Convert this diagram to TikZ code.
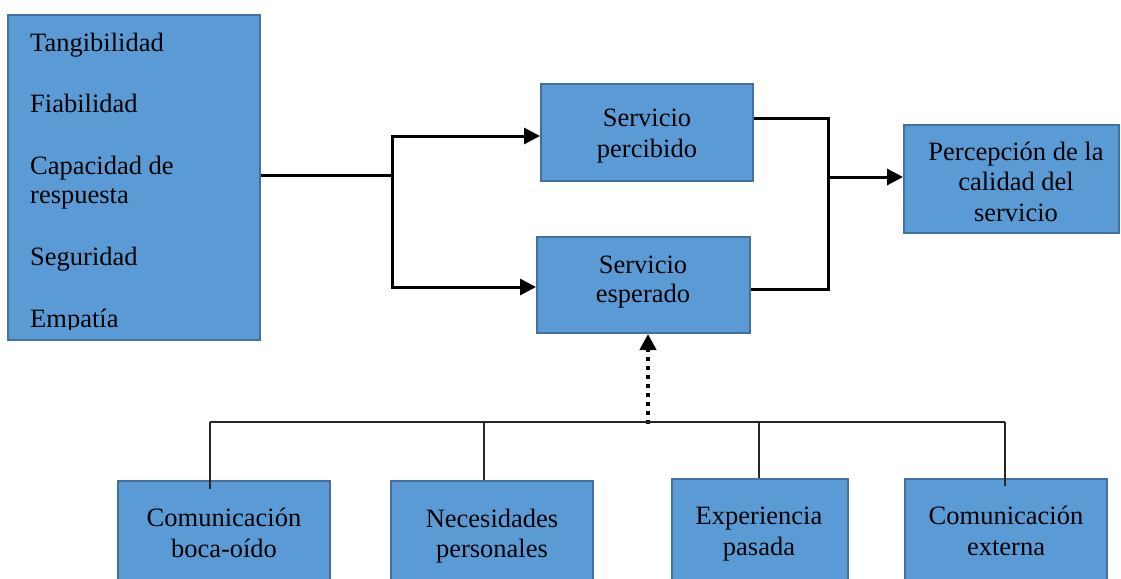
\documentclass[tikz,border=0pt]{standalone}
\usepackage{fontspec}
\setmainfont{Liberation Serif}
\usetikzlibrary{arrows.meta}
\begin{document}
\begin{tikzpicture}[x=1pt,y=-1pt,
  box/.style={draw=boxline,fill=boxfill,line width=2pt,inner sep=0pt,rectangle},
  txt/.style={inner sep=0pt,anchor=base,font=\fontsize{26.5}{30}\selectfont},
  conn/.style={line width=3pt},
  arr/.style={line width=3pt,-{Triangle[length=16pt,width=16pt]}},
  dotarr/.style={line width=4.5pt,dash pattern=on 4pt off 5pt,-{Triangle[length=16pt,width=16pt]}},
  tree/.style={line width=1.5pt,draw=black!85}]
\definecolor{boxfill}{HTML}{5B9BD5}
\definecolor{boxline}{HTML}{41719C}
\useasboundingbox (0,0) rectangle (1121,578);
\clip (0,0) rectangle (1121,578);

% dimensions box on the left
\node[box,minimum width=252pt,minimum height=325pt] (dims) at (134,177.5) {};
\begin{scope}
  \clip (8,15) rectangle (260,329);
  \node[txt,anchor=base west] (d1) at (30,52) {Tangibilidad};
  \node[txt,anchor=base west] (d2) at (30,112) {Fiabilidad};
  \node[txt,anchor=base west] (d3) at (30,174) {Capacidad de};
  \node[txt,anchor=base west] (d3b) at (30,203) {respuesta};
  \node[txt,anchor=base west] (d4) at (30,265) {Seguridad};
  \node[txt,anchor=base west] (d5) at (30,327) {Empatía};
\end{scope}

% perceived and expected service
\node[box,minimum width=212pt,minimum height=97pt] (perc) at (647,132.5) {};
\node[txt] (percA) at (647,126) {Servicio};
\node[txt] (percB) at (647,157) {percibido};
\node[box,minimum width=213pt,minimum height=96pt] (esp) at (643.5,285) {};
\node[txt] (espA) at (643,273) {Servicio};
\node[txt] (espB) at (643,302) {esperado};

% perceived quality
\node[box,minimum width=215pt,minimum height=108pt] (cal) at (1011.5,179) {};
\node[txt] (calA) at (1016,160) {Percepción de la};
\node[txt] (calB) at (1016,190.5) {calidad del};
\node[txt] (calC) at (1016,221) {servicio};

% factors at the bottom
\node[box,minimum width=212pt,minimum height=130pt] (boca) at (224,546) {};
\node[txt] (bocaA) at (224,526) {Comunicación};
\node[txt] (bocaB) at (224,557) {boca-oído};
\node[box,minimum width=202pt,minimum height=130pt] (nec) at (492,546) {};
\node[txt] (necA) at (492,527) {Necesidades};
\node[txt] (necB) at (492,557) {personales};
\node[box,minimum width=176pt,minimum height=130pt] (exp) at (760,544) {};
\node[txt] (expA) at (759,524) {Experiencia};
\node[txt] (expB) at (759,555) {pasada};
\node[box,minimum width=202pt,minimum height=130pt] (ext) at (1006,544) {};
\node[txt] (extA) at (1006,524) {Comunicación};
\node[txt] (extB) at (1006,555) {externa};

% split from the dimensions
\coordinate (split) at (392,175);
\coordinate (splitT) at (392,136);
\coordinate (splitB) at (392,287);
\draw[conn] (dims.east |- split) -- (split);
\draw[conn] ([yshift=1.5pt]splitT) -- ([yshift=-1.5pt]splitB);
\draw[arr] ([xshift=-1.5pt]splitT) -- (splitT -| perc.west);
\draw[arr] ([xshift=-1.5pt]splitB) -- (splitB -| esp.west);

% join towards the perceived quality
\coordinate (joinT) at (828,118);
\coordinate (joinB) at (828,289);
\coordinate (join) at (828,177);
\draw[conn,line join=miter] (joinT -| perc.east) -- (joinT) -- (joinB) -- (joinB -| esp.east);
\draw[arr] (join) -- (join -| cal.west);

% factors feeding the expected service
\coordinate (bus) at (648,424);
\coordinate (busL) at (210,422);
\coordinate (busR) at (1005,422);
\draw[dotarr] (bus) -- (bus |- esp.south);
\draw[tree] (busL) -- (busR);
\draw[tree] (busL) -- ([yshift=-9pt]busL |- boca.north);
\draw[tree] (484,422) -- (484,422 |- nec.north);
\draw[tree] (759,422) -- (759,422 |- exp.north);
\draw[tree] (busR) -- ([yshift=-8pt]busR |- ext.north);
\end{tikzpicture}
\end{document}
